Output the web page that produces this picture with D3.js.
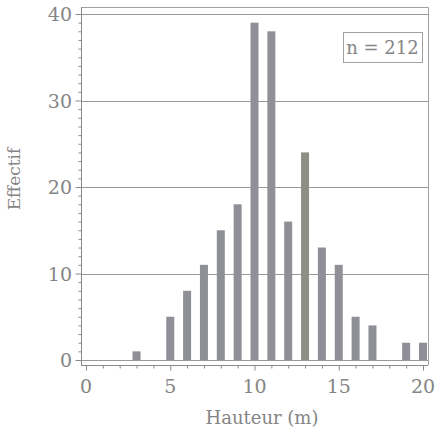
<!DOCTYPE html>
<html lang="fr">
<head>
  <meta charset="UTF-8" />
  <title>Hauteur - histogramme</title>
  <script src="https://d3js.org/d3.v7.min.js"></script>
  <style>
    body { margin: 0; background: #fff; }
    svg { display: block; }
    text { font-family: "DejaVu Serif", serif; fill: #858585; }
    .grid line { stroke: #9a9a9a; stroke-width: 1px; }
    .frame { fill: none; stroke: #a0a0a0; stroke-width: 1px; }
    .tick line { stroke: #8a8a8a; }
  </style>
</head>
<body>
<svg width="436" height="438"></svg>
<script>
// hauteur (m) et effectif par classe
const hauteurs = [3, 5, 6, 7, 8, 9, 10, 11, 12, 13, 14, 15, 16, 17, 19, 20];
const effectifs = [1, 5, 8, 11, 15, 18, 39, 38, 16, 24, 13, 11, 5, 4, 2, 2];
const xTicks = [0, 5, 10, 15, 20];
const yTicks = [0, 10, 20, 30, 40];
const nLabel = "n = 212";

const svg = d3.select("svg");
const plotLeft = 81, plotRight = 428, plotTop = 7, axisY = 365;

const x = d3.scaleLinear().domain([0, 20]).range([86, 423]);
const y = d3.scaleLinear().domain([0, 40]).range([360, 14]);

// cadre haut et droit
svg.append("path")
  .attr("class", "frame")
  .attr("d", `M${plotLeft},${plotTop + 0.5}H${plotRight + 0.5}V${axisY}`);

// lignes horizontales
svg.append("g").attr("class", "grid")
  .selectAll("line")
  .data(yTicks)
  .join("line")
  .attr("x1", plotLeft).attr("x2", plotRight)
  .attr("y1", d => Math.round(y(d)) + 0.5)
  .attr("y2", d => Math.round(y(d)) + 0.5);

// barres
const barW = 8;
svg.append("g")
  .selectAll("rect")
  .data(hauteurs)
  .join("rect")
  .attr("x", d => x(d) - barW / 2)
  .attr("width", barW)
  .attr("y", (d, i) => y(effectifs[i]))
  .attr("height", (d, i) => y(0) - y(effectifs[i]))
  .attr("fill", d => d === 13 ? "#8b8f84" : "#8f8f97");

// axe y
const yAxis = svg.append("g")
  .attr("transform", `translate(${plotLeft + 0.5},0)`)
  .call(d3.axisLeft(y).tickValues(d3.range(0, 41, 1)).tickSize(3).tickFormat(""));
yAxis.select(".domain").attr("stroke", "#8a8a8a").attr("d", `M0,${plotTop}V${axisY}`);
yAxis.selectAll(".tick line").filter(d => d % 10 === 0).attr("x2", -6);
svg.append("g")
  .selectAll("text")
  .data(yTicks)
  .join("text")
  .attr("x", 72)
  .attr("y", d => y(d) + 7)
  .attr("text-anchor", "end")
  .attr("font-size", 19)
  .text(d => d);

// axe x
const xAxis = svg.append("g")
  .attr("transform", `translate(0,${axisY + 0.5})`)
  .call(d3.axisBottom(x).tickValues(d3.range(0, 21, 1)).tickSize(3).tickFormat(""));
xAxis.select(".domain").attr("stroke", "#8a8a8a").attr("d", `M${plotLeft},0H${plotRight}`);
xAxis.selectAll(".tick line").filter(d => d % 5 === 0).attr("y2", 5);
svg.append("g")
  .selectAll("text")
  .data(xTicks)
  .join("text")
  .attr("x", d => x(d))
  .attr("y", 393)
  .attr("text-anchor", "middle")
  .attr("font-size", 19)
  .text(d => d);

// titres
svg.append("text")
  .attr("transform", "translate(20,179) rotate(-90)")
  .attr("text-anchor", "middle")
  .attr("font-size", 17)
  .text("Effectif");

svg.append("text")
  .attr("x", 262)
  .attr("y", 424)
  .attr("text-anchor", "middle")
  .attr("font-size", 18)
  .text("Hauteur (m)");

// effectif total
svg.append("rect")
  .attr("class", "frame")
  .attr("x", 343.5).attr("y", 32.5)
  .attr("width", 79).attr("height", 30);
svg.append("text")
  .attr("x", 382.5)
  .attr("y", 54)
  .attr("text-anchor", "middle")
  .attr("font-size", 18)
  .text(nLabel);
</script>
</body>
</html>
